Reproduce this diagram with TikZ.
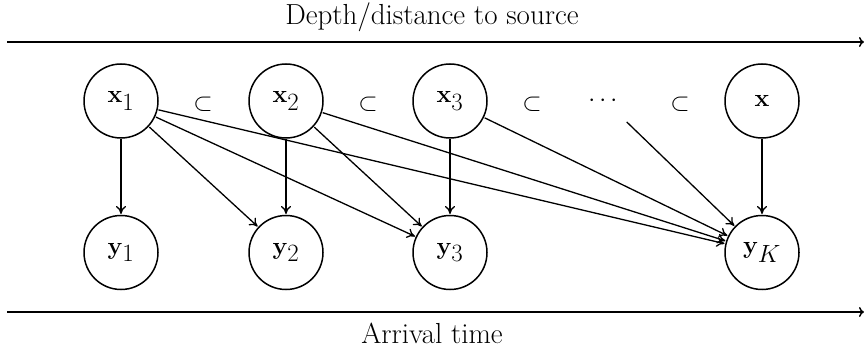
\documentclass[tikz,border=0pt]{standalone}
\usepackage{amsmath}
\usetikzlibrary{arrows.meta}
\begin{document}
\begin{tikzpicture}[x=1pt,y=-1pt,
  var/.style={circle,draw,line width=1.5pt,minimum size=74pt,inner sep=0pt,outer sep=1.5pt,font=\fontsize{34}{40}\selectfont},
  ghost/.style={circle,minimum size=60pt,inner sep=0pt,font=\fontsize{34}{40}\selectfont},
  rel/.style={inner sep=0pt,font=\fontsize{34}{40}\selectfont},
  edge/.style={-{To[length=8pt,width=10pt]},line width=1.3pt},
  axis/.style={-{To[length=5pt,width=10pt]},line width=1.5pt},
  lbl/.style={inner sep=0pt,font=\fontsize{29}{34}\selectfont}]
\useasboundingbox (0,0) rectangle (864,352);
% axes
\coordinate (tl) at (7,42);
\coordinate (tr) at (864,42);
\coordinate (bl) at (7,312);
\coordinate (br) at (864,312);
\draw[axis] (tl) -- (tr);
\draw[axis] (bl) -- (br);
\node[lbl,anchor=base] (top) at (432,25) {Depth/distance to source};
\node[lbl,anchor=base] (bot) at (432,343) {Arrival time};
% top row
\node[var] (x1) at (121,101) {$\mathbf{x}_1$};
\node[var] (x2) at (286,101) {$\mathbf{x}_2$};
\node[var] (x3) at (450,101) {$\mathbf{x}_3$};
\node[ghost] (xd) at (605,101) {$\cdots$};
\node[var] (x) at (762,101) {$\mathbf{x}$};
\node[rel] (s1) at (203,104) {$\subset$};
\node[rel] (s2) at (368,104) {$\subset$};
\node[rel] (s3) at (532,104) {$\subset$};
\node[rel] (s4) at (680,104) {$\subset$};
% bottom row
\node[var] (y1) at (121,252.5) {$\mathbf{y}_1$};
\node[var] (y2) at (286,252.5) {$\mathbf{y}_2$};
\node[var] (y3) at (450,252.5) {$\mathbf{y}_3$};
\node[var] (yK) at (762,252.5) {$\mathbf{y}_K$};
% edges
\draw[edge] (x1) -- (y1);
\draw[edge] (x1) -- (y2);
\draw[edge] (x1) -- (y3);
\draw[edge] (x1) -- (yK);
\draw[edge] (x2) -- (y2);
\draw[edge] (x2) -- (y3);
\draw[edge] (x2) -- (yK);
\draw[edge] (x3) -- (y3);
\draw[edge] (x3) -- (yK);
\draw[edge] (xd) -- (yK);
\draw[edge] (x) -- (yK);
\end{tikzpicture}
\end{document}
